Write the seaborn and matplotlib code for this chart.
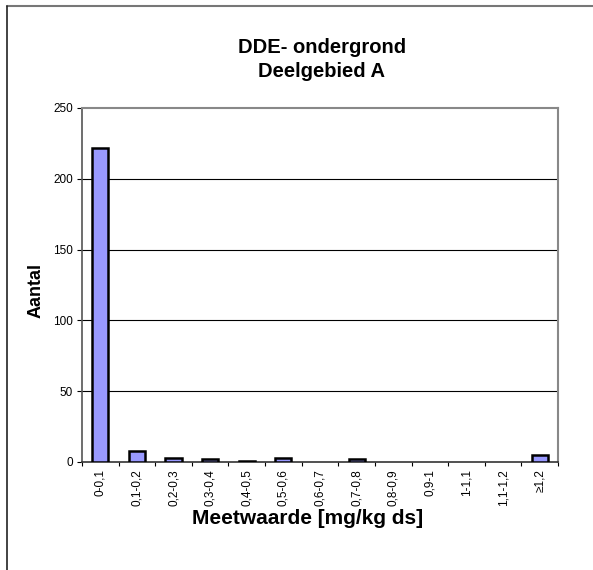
import numpy as np
import pandas as pd
import matplotlib
matplotlib.use("Agg")
import matplotlib.pyplot as plt
from matplotlib.lines import Line2D
import seaborn as sns

categories = ["0-0,1", "0,1-0,2", "0,2-0,3", "0,3-0,4", "0,4-0,5", "0,5-0,6",
              "0,6-0,7", "0,7-0,8", "0,8-0,9", "0,9-1", "1-1,1", "1,1-1,2", "≥1,2"]
counts = [222, 8, 3, 2, 1, 3, 0, 2, 0, 0, 0, 0, 5]
y_ticks = [0, 50, 100, 150, 200, 250]

sns.set_theme(style="white")
plt.rcParams["font.family"] = ["Liberation Sans", "DejaVu Sans"]
plt.rcParams["text.color"] = "black"
plt.rcParams["axes.labelcolor"] = "black"
plt.rcParams["xtick.color"] = "black"
plt.rcParams["ytick.color"] = "black"

df = pd.DataFrame({"klasse": categories, "aantal": counts})

W, H = 593, 570
fig = plt.figure(figsize=(W / 100, H / 100), dpi=100)
ax = fig.add_axes([82 / W, 1 - 462 / H, (558 - 82) / W, (462 - 108) / H])

sns.barplot(data=df, x="klasse", y="aantal", order=categories, color="#9999FF",
            width=0.44, edgecolor="black", linewidth=1.8, saturation=1, ax=ax, zorder=3)
# empty classes get no bar outline
for patch, n in zip(ax.patches, counts):
    if n == 0:
        patch.set_visible(False)

ax.set_xlim(-0.5, len(categories) - 0.5)
ax.set_ylim(0, 250)
ax.set_yticks(y_ticks)
ax.set_yticklabels([str(v) for v in y_ticks], fontsize=8.5)
for v in y_ticks[1:-1]:
    ax.axhline(v, color="black", linewidth=0.8, zorder=1)

# category labels at centres, tick marks at class boundaries
ax.set_xticks(range(len(categories)))
ax.set_xticklabels(categories, rotation=90, fontsize=8.5)
ax.set_xticks(np.arange(-0.5, len(categories) + 0.5, 1), minor=True)
ax.tick_params(axis="x", which="major", length=0, pad=5)
ax.tick_params(axis="x", which="minor", direction="out", length=3, width=0.8, color="black", bottom=True)
ax.tick_params(axis="y", direction="out", length=3.5, width=0.8, color="black", left=True, pad=3)

for side in ["top", "right"]:
    ax.spines[side].set_color("#888888")
    ax.spines[side].set_linewidth(1.5)
ax.spines["left"].set_color("#555555")
ax.spines["left"].set_linewidth(1.2)
ax.spines["bottom"].set_color("#333333")
ax.spines["bottom"].set_linewidth(1.2)

ax.set_xlabel("")
ax.set_ylabel("")
fig.text(308 / W, 1 - 519 / H, "Meetwaarde [mg/kg ds]", ha="center", va="center",
         fontsize=15, fontweight="bold")
fig.text(36 / W, 1 - 291 / H, "Aantal", ha="center", va="center", rotation=90,
         fontsize=13, fontweight="bold")

fig.text(322 / W, 1 - 53 / H, "DDE- ondergrond", ha="center", va="baseline",
         fontsize=14.5, fontweight="bold")
fig.text(321 / W, 1 - 77 / H, "Deelgebied A", ha="center", va="baseline",
         fontsize=14.5, fontweight="bold")

# outer frame
fig.add_artist(Line2D([7 / W, 1.0], [1 - 6 / H, 1 - 6 / H], transform=fig.transFigure,
                      color="#777777", linewidth=1.5))
fig.add_artist(Line2D([7 / W, 7 / W], [0, 1 - 6 / H], transform=fig.transFigure,
                      color="#222222", linewidth=1.2))

fig.savefig("out.png", dpi=100, facecolor="white")
